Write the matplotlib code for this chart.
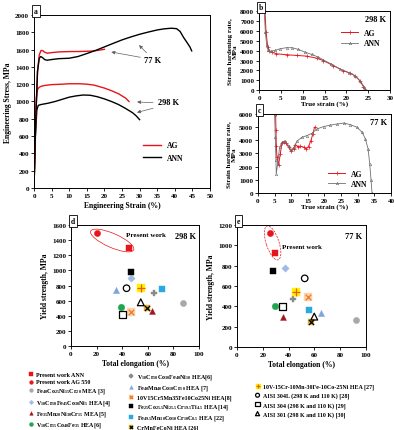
import matplotlib
matplotlib.use('Agg')
import matplotlib.pyplot as plt
from matplotlib.patches import Ellipse

plt.rcParams['font.family'] = ['Liberation Serif', 'DejaVu Serif']
plt.rcParams['font.weight'] = 'bold'
plt.rcParams['axes.labelweight'] = 'bold'
plt.rcParams['mathtext.fontset'] = 'custom'
plt.rcParams['mathtext.rm'] = 'Liberation Serif:bold'
plt.rcParams['mathtext.it'] = 'Liberation Serif:bold'
plt.rcParams['mathtext.bf'] = 'Liberation Serif:bold'

# ---- panel a: engineering stress-strain ----
ag_298_x = [0, 0.4, 0.7, 1.0, 1.5, 2, 3, 5, 8, 10, 13, 15, 17, 20, 22, 24, 26, 27]
ag_298_y = [0, 700, 1050, 1140, 1165, 1175, 1185, 1195, 1200, 1205, 1205, 1200, 1190, 1155, 1125, 1090, 1040, 1000]
ann_298_x = [0, 0.4, 0.8, 1.2, 2, 4, 6, 8, 10, 12, 14, 16, 18, 20, 22, 24, 26, 28, 29, 30]
ann_298_y = [0, 600, 900, 955, 965, 980, 1000, 1025, 1050, 1065, 1075, 1072, 1055, 1030, 1000, 965, 920, 870, 835, 790]
ag_77_x = [0, 0.5, 1.0, 1.5, 2.0, 2.5, 3.0, 3.8, 5, 7, 10, 13, 16, 18, 20]
ag_77_y = [0, 800, 1350, 1540, 1590, 1588, 1570, 1558, 1565, 1573, 1577, 1578, 1582, 1590, 1603]
ann_77_x = [0, 0.5, 1.0, 1.5, 1.9, 2.5, 3.0, 3.7, 5, 7, 10, 12.5, 15, 17.5, 20, 22.5, 25, 27.5, 30,
            32.5, 35, 37, 39, 40.5, 41.5, 42.5, 43.5, 44.3, 44.8]
ann_77_y = [0, 800, 1350, 1500, 1520, 1505, 1485, 1477, 1485, 1495, 1500, 1520, 1554, 1590, 1631, 1672,
            1712, 1746, 1777, 1803, 1827, 1840, 1847, 1842, 1810, 1740, 1680, 1630, 1585]

# ---- panel b: strain hardening 298 K ----
b_ag_x = [1.37, 1.6, 2.0, 2.4, 2.9, 4.0, 6.3, 8.6, 10.9, 13.2, 14.7, 17.0, 19.3, 20.8, 22.0, 23.1, 23.9, 24.3]
b_ag_y = [8000, 5930, 4380, 3970, 3860, 3690, 3590, 3520, 3450, 3240, 3000, 2480, 1970, 1720, 1450, 930, 345, 0]
b_ann_x = [1.2, 1.45, 1.76, 2.1, 2.7, 3.7, 4.8, 6.3, 7.5, 9.0, 10.5, 12.1, 13.6, 14.7, 16.5, 18.5,
           20.5, 22.0, 23.2, 24.0, 24.4]
b_ann_y = [8000, 5930, 4550, 4030, 3930, 4030, 4200, 4310, 4310, 4140, 3860, 3620, 3340, 3070, 2650,
           2150, 1780, 1450, 900, 350, 0]

# ---- panel c: strain hardening 77 K ----
c_ag_x = [5.3, 5.4, 5.5, 5.7, 6.2, 6.7, 7.2, 7.7, 8.4, 9.2, 9.9, 10.7, 11.2, 11.9, 12.7, 13.7, 14.5,
          15.2, 15.9, 16.5, 17.0]
c_ag_y = [6000, 4800, 3600, 2720, 2140, 2970, 3780, 3900, 3780, 3480, 3170, 3350, 3680, 3530, 3550,
          3480, 3350, 3530, 3980, 4480, 4990]
c_ann_x = [5.0, 5.2, 5.4, 5.5, 5.9, 6.5, 7.2, 8.2, 9.2, 9.9, 10.9, 11.7, 13.2, 14.7, 16.2, 17.7, 19.7,
           21.8, 23.8, 25.8, 27.8, 29.8, 31.3, 32.3, 33.1, 33.6, 34.0, 34.3]
c_ann_y = [6000, 4230, 2470, 1460, 2220, 3480, 3850, 3930, 3600, 3270, 3480, 3930, 4230, 4360, 4530,
           4860, 5040, 5160, 5240, 5310, 5190, 4990, 4610, 4110, 3350, 2220, 960, 0]

# ---- panels d, e: yield strength vs elongation ----
alloys = [
    'Present work ANN',
    'Present work AG 550',
    'Fe$_{40}$Co$_{25}$Ni$_{15}$Cr$_{20}$ MEA [3]',
    'V$_{10}$Cr$_{10}$Fe$_{45}$Co$_{30}$Ni$_{5}$ HEA [4]',
    'Fe$_{35}$Mn$_{20}$Ni$_{30}$Cr$_{15}$ MEA [5]',
    'V$_{10}$Cr$_{15}$Co$_{40}$Fe$_{35}$ HEA[6]',
    'V$_{10}$Cr$_{10}$Co$_{30}$Fe$_{40}$Ni$_{10}$ HEA[6]',
    'Fe$_{40}$Mn$_{40}$Co$_{10}$Cr$_{10}$ HEA [7]',
    '10V15Cr5Mn35Fe10Co25Ni HEA[8]',
    'Fe$_{25}$Co$_{25.5}$Ni$_{25.5}$Cr$_{19.5}$Ti$_{4.5}$ HEA [14]',
    'Fe$_{49.5}$Mn$_{30}$Co$_{10}$Cr$_{10}$C$_{0.5}$ HEA [22]',
    'CrMnFeCoNi HEA [26]',
    '10V-15Cr-10Mn-30Fe-10Co-25Ni HEA [27]',
    'AISI 304L (298 K and 110 K) [28]',
    'AISI 304 (298 K and 110 K) [29]',
    'AISI 301 (298 K and 110 K) [30]',
]
elong_298 = [45, 20, 87.5, 46.5, 62.9, 39.2, 65, 35.3, 46.8, 46.8, 71.4, 59.2, 55, 43.4, 40.5, 54.5]
ys_298 = [1300, 1500, 573, 898, 462, 516, 702, 747, 453, 973, 756, 498, 764, 764, 418, 578]
elong_77 = [29.7, 25.6, 92, 37.5, 35.7, 29.2, 43.4, 65.4, 54.8, 28.2, 55.6, 57.6, 45.7, 52.5, 35.1, 59.9]
ys_77 = [924, 1124, 263, 778, 293, 399, 469, 332, 489, 751, 359, 249, 542, 675, 396, 299]

# marker styles: list of layers (marker, size, face, edge)
styles = [
    [('s', 20, '#e8141b', '#e8141b')],
    [('o', 20, '#e8141b', '#e8141b')],
    [('o', 20, '#a8a8a8', '#a8a8a8')],
    [('D', 14, '#9dbbe6', '#9dbbe6')],
    [('^', 18, '#a3141c', '#a3141c')],
    [('o', 22, '#1fa64f', '#1fa64f')],
    [('P', 20, '#8a8a8a', '#8a8a8a')],
    [('^', 20, '#7ea6dc', '#7ea6dc')],
    [('s', 30, '#fcd3ac', '#fcd3ac'), ('x', 16, '#f07820', '#f07820')],
    [('s', 20, 'black', 'black')],
    [('s', 20, '#29a9e0', '#29a9e0')],
    [('s', 22, '#e0b030', '#e0b030'), ('x', 14, 'black', 'black')],
    [('s', 36, '#fff200', '#fff200'), ('+', 30, '#f05a14', '#f05a14')],
    [('o', 22, 'none', 'black')],
    [('s', 24, 'none', 'black')],
    [('^', 24, 'none', 'black')],
]


def box_label(ax, letter):
    ax.text(0.0, 1.0, letter, transform=ax.transAxes, ha='left', va='bottom', fontsize=5.5,
            bbox=dict(boxstyle='square,pad=0.25', fc='white', ec='black', lw=0.6))


def style_axes(ax):
    ax.tick_params(labelsize=5, length=2, width=0.6, pad=1.5)
    for s in ax.spines.values():
        s.set_linewidth(0.7)


def scatter_panel(ax, xs, ys):
    handles = []
    for i in range(len(xs)):
        layers = []
        for m, s, fc, ec in styles[i]:
            lw = 0.9 if m in ('x', '+') or fc == 'none' else 0.3
            h = ax.scatter([xs[i]], [ys[i]], marker=m, s=s, facecolors=fc, edgecolors=ec,
                           linewidths=lw, zorder=3)
            layers.append(h)
        handles.append(tuple(layers))
    return handles


fig = plt.figure(figsize=(3.94, 4.31), dpi=100)

# panel a
ax = fig.add_axes([0.0863, 0.5615, 0.4467, 0.4014])
ax.plot(ag_298_x, ag_298_y, color='#e8141b', lw=1.0, label='AG')
ax.plot(ann_298_x, ann_298_y, color='black', lw=1.0, label='ANN')
ax.plot(ag_77_x, ag_77_y, color='#e8141b', lw=1.0)
ax.plot(ann_77_x, ann_77_y, color='black', lw=1.0)
ax.set_xlim(0, 50)
ax.set_ylim(0, 2000)
ax.set_xticks(range(0, 51, 5))
ax.set_yticks(range(0, 2001, 200))
ax.set_xlabel('Engineering Strain (%)', fontsize=5.5, labelpad=2)
ax.set_ylabel('Engineering Stress, MPa', fontsize=5.5, labelpad=2)
arrow = dict(arrowstyle='-|>', color='#606060', lw=0.5, mutation_scale=5)
ax.text(33.6, 1485, '77 K', fontsize=6, ha='center', va='center')
ax.annotate('', xy=(21.2, 1578), xytext=(31.0, 1505), arrowprops=arrow)
ax.annotate('', xy=(29.3, 1675), xytext=(32.5, 1540), arrowprops=arrow)
ax.text(38.2, 990, '298 K', fontsize=6, ha='center', va='center')
ax.annotate('', xy=(28.5, 996), xytext=(34.6, 985), arrowprops=arrow)
ax.annotate('', xy=(28.5, 865), xytext=(34.6, 930), arrowprops=arrow)
ax.legend(loc='center left', bbox_to_anchor=(0.58, 0.21), frameon=False, fontsize=5.5,
          handlelength=2.4, labelspacing=0.6)
style_axes(ax)
box_label(ax, 'a')

# panel b
ax = fig.add_axes([0.6574, 0.7889, 0.3325, 0.1822])
ax.plot(b_ag_x, b_ag_y, color='#e8141b', lw=0.7, marker='+', ms=2.5, mew=0.5, label='AG')
ax.plot(b_ann_x, b_ann_y, color='#707070', lw=0.6, marker='^', ms=1.8, mfc='none', mew=0.4, label='ANN')
ax.set_xlim(0, 30)
ax.set_ylim(0, 8000)
ax.set_xticks(range(0, 31, 5))
ax.set_yticks(range(0, 8001, 1000))
ax.set_xlabel('True strain (%)', fontsize=5, labelpad=0.5)
ax.set_ylabel('Strain hardening rate,\nMPa', fontsize=5, labelpad=1.5, linespacing=1.0)
ax.text(0.97, 0.9, '298 K', transform=ax.transAxes, ha='right', va='center', fontsize=6)
ax.legend(loc='center left', bbox_to_anchor=(0.6, 0.66), frameon=False, fontsize=5.5,
          handlelength=2.2, labelspacing=0.3, borderpad=0)
style_axes(ax)
box_label(ax, 'b')

# panel c
ax = fig.add_axes([0.6548, 0.5499, 0.3376, 0.1833])
ax.plot(c_ag_x, c_ag_y, color='#e8141b', lw=0.7, marker='+', ms=2.5, mew=0.5, label='AG')
ax.plot(c_ann_x, c_ann_y, color='#707070', lw=0.6, marker='^', ms=1.8, mfc='none', mew=0.4, label='ANN')
ax.set_xlim(0, 40)
ax.set_ylim(0, 6000)
ax.set_xticks(range(0, 41, 5))
ax.set_yticks(range(0, 6001, 1000))
ax.set_xlabel('True strain (%)', fontsize=5, labelpad=0.5)
ax.set_ylabel('Strain hardening rate,\nMPa', fontsize=5, labelpad=1.5, linespacing=1.0)
ax.text(0.97, 0.9, '77 K', transform=ax.transAxes, ha='right', va='center', fontsize=6)
ax.legend(loc='center left', bbox_to_anchor=(0.5, 0.18), frameon=False, fontsize=5.5,
          handlelength=2.2, labelspacing=0.3, borderpad=0)
style_axes(ax)
box_label(ax, 'c')

# panel d
ax = fig.add_axes([0.1802, 0.1949, 0.3249, 0.2807])
handles = scatter_panel(ax, elong_298, ys_298)
ax.set_xlim(0, 100)
ax.set_ylim(0, 1600)
ax.set_xticks(range(0, 101, 20))
ax.set_yticks(range(0, 1601, 200))
ax.set_xlabel('Total elongation (%)', fontsize=5.5, labelpad=2)
ax.set_ylabel('Yield strength, MPa', fontsize=5.5, labelpad=2)
ax.add_patch(Ellipse((0.322, 0.872), 0.37, 0.115, angle=-25, transform=ax.transAxes,
                     fill=False, ec='#e8141b', lw=0.5))
ax.text(43, 1468, 'Present work', fontsize=5, ha='left', va='center')
ax.text(0.98, 0.91, '298 K', transform=ax.transAxes, ha='right', va='center', fontsize=6)
style_axes(ax)
box_label(ax, 'd')

# panel e
ax = fig.add_axes([0.6015, 0.1926, 0.3274, 0.2831])
scatter_panel(ax, elong_77, ys_77)
ax.set_xlim(0, 100)
ax.set_ylim(0, 1200)
ax.set_xticks(range(0, 101, 20))
ax.set_yticks(range(0, 1201, 200))
ax.set_xlabel('Total elongation (%)', fontsize=5.5, labelpad=2)
ax.set_ylabel('Yield strength, MPa', fontsize=5.5, labelpad=2)
ax.add_patch(Ellipse((0.276, 0.853), 0.29, 0.1, angle=-73, transform=ax.transAxes,
                     fill=False, ec='#e8141b', lw=0.5, ls=(0, (3, 1.5))))
ax.text(35, 985, 'Present work', fontsize=5, ha='left', va='center')
ax.text(0.97, 0.91, '77 K', transform=ax.transAxes, ha='right', va='center', fontsize=6)
style_axes(ax)
box_label(ax, 'e')

# legend below d and e
leg_kw = dict(frameon=False, fontsize=4.3, handlelength=0.8, handletextpad=0.5,
              borderpad=0, loc='upper left', markerscale=0.6)
fig.legend(handles[0:6], alloys[0:6], bbox_to_anchor=(0.064, 0.142), labelspacing=0.36, **leg_kw)
fig.legend(handles[6:12], alloys[6:12], bbox_to_anchor=(0.320, 0.142), labelspacing=0.36, **leg_kw)
fig.legend(handles[12:16], alloys[12:16], bbox_to_anchor=(0.640, 0.115), labelspacing=0.55, **leg_kw)

fig.savefig('out.png', dpi=100)
